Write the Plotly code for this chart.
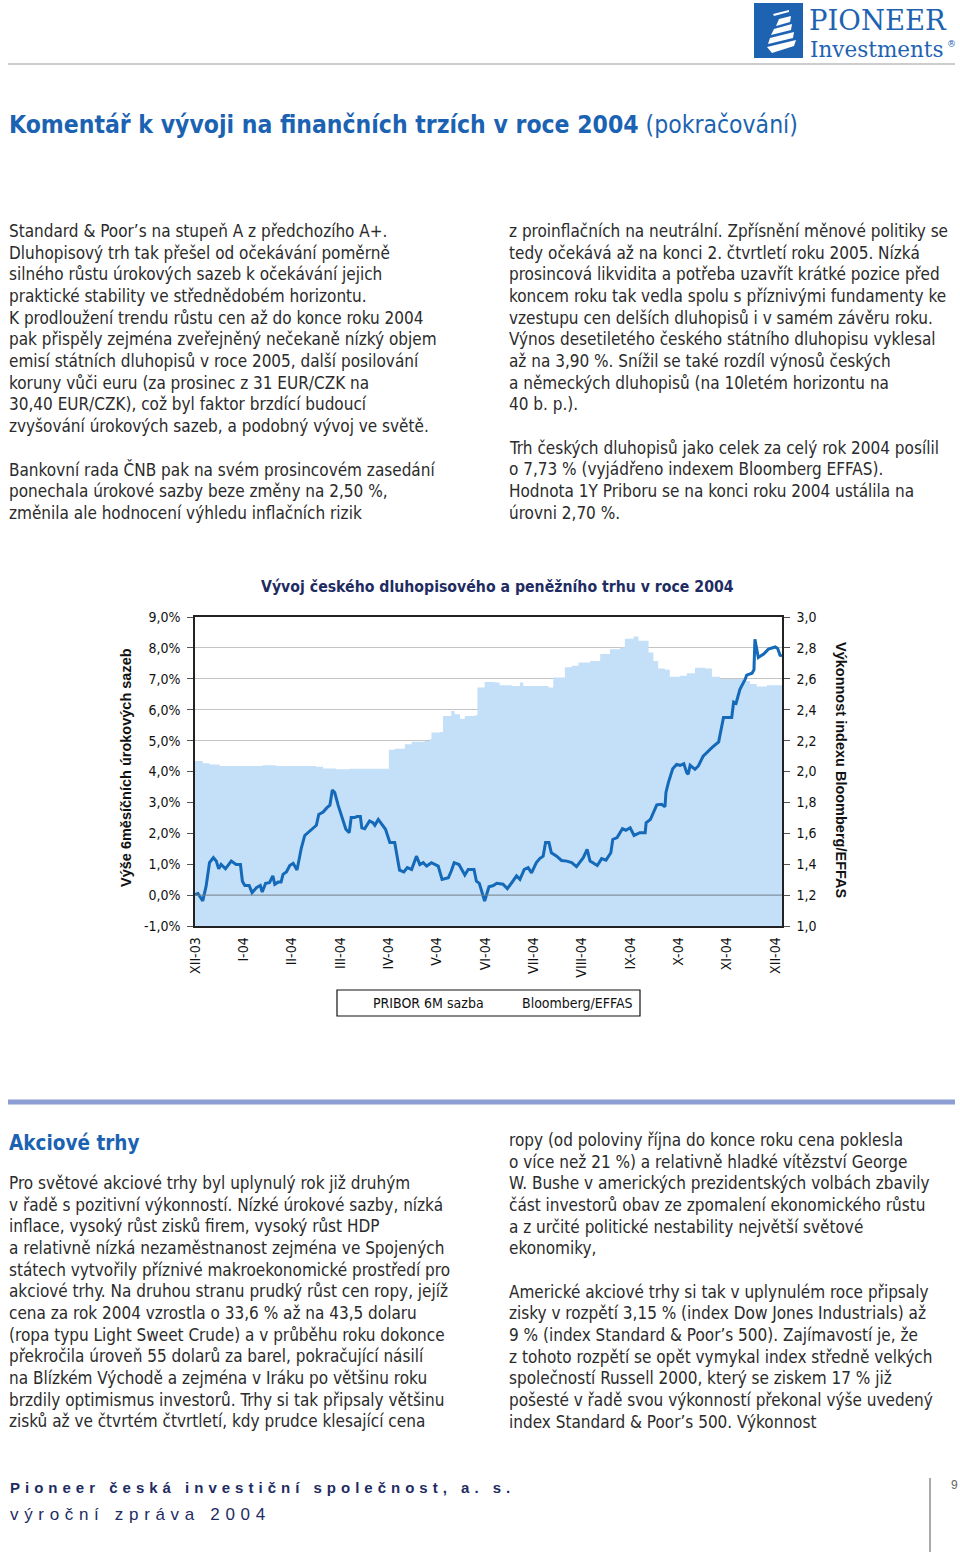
import plotly.graph_objects as go

# ---------------- DATA ----------------
month_labels = ["XII-03", "I-04", "II-04", "III-04", "IV-04", "V-04", "VI-04",
                "VII-04", "VIII-04", "IX-04", "X-04", "XI-04", "XII-04"]
month_pos = list(range(13))

left_ticks = [-1, 0, 1, 2, 3, 4, 5, 6, 7, 8, 9]
left_tick_labels = ["-1,0%", "0,0%", "1,0%", "2,0%", "3,0%", "4,0%", "5,0%",
                    "6,0%", "7,0%", "8,0%", "9,0%"]

# Bloomberg/EFFAS performance (left axis, %), x = months since end of Dec 2003
effas_t = [0.00, 0.06, 0.16, 0.23, 0.30, 0.38, 0.44, 0.49, 0.54, 0.63, 0.75, 0.85, 0.94,
           0.98, 1.03, 1.12, 1.18, 1.27, 1.35, 1.39, 1.46, 1.54, 1.61, 1.65, 1.72, 1.78,
           1.82, 1.89, 1.96, 2.03, 2.11, 2.20, 2.27, 2.34, 2.44, 2.51, 2.56, 2.65, 2.73,
           2.79, 2.84, 2.89, 2.96, 3.03, 3.12, 3.19, 3.23, 3.30, 3.35, 3.42, 3.45, 3.51,
           3.61, 3.68, 3.72, 3.79, 3.88, 3.94, 4.03, 4.13, 4.23, 4.32, 4.39, 4.48, 4.58,
           4.65, 4.72, 4.79, 4.89, 5.03, 5.11, 5.24, 5.30, 5.36, 5.46, 5.58, 5.65, 5.77,
           5.82, 5.88, 5.99, 6.08, 6.17, 6.24, 6.37, 6.46, 6.55, 6.65, 6.72, 6.81, 6.89,
           6.96, 7.06, 7.13, 7.20, 7.25, 7.32, 7.37, 7.48, 7.58, 7.69, 7.79, 7.89, 7.96,
           8.03, 8.11, 8.17, 8.32, 8.41, 8.50, 8.60, 8.64, 8.73, 8.84, 8.91, 9.00, 9.08,
           9.20, 9.31, 9.33, 9.42, 9.55, 9.65, 9.72, 9.74, 9.79, 9.88, 9.96, 10.03, 10.11,
           10.17, 10.20, 10.24, 10.34, 10.41, 10.51, 10.62, 10.69, 10.83, 10.89, 10.93,
           11.10, 11.14, 11.19, 11.27, 11.38, 11.41, 11.52, 11.56, 11.58, 11.65, 11.76,
           11.86, 12.00, 12.05, 12.10, 12.14]
effas_val = [0.02, 0.05, -0.19, 0.29, 1.05, 1.21, 1.10, 0.85, 0.99, 0.85, 1.10, 0.99, 0.99,
             0.45, 0.31, 0.31, 0.08, 0.24, 0.31, 0.10, 0.38, 0.40, 0.62, 0.35, 0.42, 0.42,
             0.67, 0.75, 0.96, 1.03, 0.81, 1.53, 1.93, 2.02, 2.18, 2.26, 2.61, 2.69, 2.83,
             2.91, 3.40, 3.32, 2.91, 2.56, 2.13, 2.02, 2.51, 2.51, 2.54, 2.54, 2.18, 2.15,
             2.40, 2.34, 2.26, 2.45, 2.24, 2.13, 1.70, 1.70, 0.81, 0.75, 0.89, 0.83, 1.26,
             0.99, 1.05, 0.94, 1.05, 0.94, 0.51, 0.56, 0.78, 1.05, 0.99, 0.65, 0.83, 0.83,
             0.45, 0.38, -0.19, 0.27, 0.31, 0.38, 0.35, 0.21, 0.40, 0.62, 0.51, 0.83, 0.89,
             0.72, 1.05, 1.18, 1.26, 1.70, 1.70, 1.37, 1.26, 1.12, 1.10, 1.05, 0.92, 1.08,
             1.21, 1.48, 1.10, 0.96, 1.18, 1.13, 1.37, 1.80, 1.86, 2.15, 2.10, 2.18, 1.93,
             2.02, 2.02, 2.34, 2.45, 2.92, 2.94, 2.86, 3.32, 3.64, 4.09, 4.23, 4.20, 4.25,
             3.96, 3.91, 4.20, 4.07, 4.18, 4.50, 4.67, 4.77, 4.96, 5.48, 5.75,
             5.75, 6.25, 6.21, 6.66, 6.99, 7.12, 7.18, 7.29, 8.28, 7.69, 7.80,
             7.96, 8.03, 7.98, 7.76, 7.74]

# PRIBOR 6M (right axis, %)
pribor_t = [0.00, 0.16, 0.30, 0.51, 0.92, 1.40, 1.68, 1.96, 2.51, 2.65, 2.92, 3.20, 3.48,
            3.94, 3.99, 4.01, 4.13, 4.34, 4.48, 4.75, 4.86, 4.89, 5.06, 5.13, 5.30, 5.37,
            5.48, 5.58, 5.79, 5.84, 5.99, 6.20, 6.30, 6.55, 6.72, 6.79, 7.03, 7.31, 7.41,
            7.65, 7.79, 7.93, 8.17, 8.38, 8.58, 8.79, 8.89, 9.07, 9.17, 9.31, 9.38, 9.48,
            9.58, 9.72, 9.82, 10.03, 10.17, 10.34, 10.55, 10.69, 10.86, 11.20, 11.34, 11.48,
            11.62, 11.83, 12.14]
pribor_val = [2.068, 2.054, 2.046, 2.036, 2.036, 2.040, 2.036, 2.036, 2.030, 2.020, 2.014,
              2.018, 2.018, 2.018, 2.018, 2.140, 2.148, 2.176, 2.192, 2.198, 2.208, 2.252,
              2.256, 2.360, 2.392, 2.370, 2.342, 2.360, 2.364, 2.544, 2.580, 2.576, 2.558,
              2.554, 2.576, 2.554, 2.554, 2.544, 2.608, 2.674, 2.684, 2.706, 2.716, 2.760,
              2.792, 2.802, 2.860, 2.874, 2.846, 2.846, 2.770, 2.716, 2.666, 2.658, 2.614,
              2.620, 2.636, 2.672, 2.666, 2.614, 2.598, 2.598, 2.586, 2.566, 2.550, 2.558,
              2.558]

series_names = ["PRIBOR 6M sazba", "Bloomberg/EFFAS"]

# ---------------- PAGE TEXT ----------------
heading_bold = "Komentář k vývoji na finančních trzích v roce 2004"
heading_regular = "(pokračování)"
chart_title = "Vývoj českého dluhopisového a peněžního trhu v roce 2004"
left_axis_title = "Výše 6měsíčních úrokových sazeb"
right_axis_title = "Výkonnost indexu Bloomberg/EFFAS"

top_left = [
    "Standard & Poor’s na stupeň A z předchozího A+.",
    "Dluhopisový trh tak přešel od očekávání poměrně",
    "silného růstu úrokových sazeb k očekávání jejich",
    "praktické stability ve střednědobém horizontu.",
    "K prodloužení trendu růstu cen až do konce roku 2004",
    "pak přispěly zejména zveřejněný nečekaně nízký objem",
    "emisí státních dluhopisů v roce 2005, další posilování",
    "koruny vůči euru (za prosinec z 31 EUR/CZK na",
    "30,40 EUR/CZK), což byl faktor brzdící budoucí",
    "zvyšování úrokových sazeb, a podobný vývoj ve světě.",
    "",
    "Bankovní rada ČNB pak na svém prosincovém zasedání",
    "ponechala úrokové sazby beze změny na 2,50 %,",
    "změnila ale hodnocení výhledu inflačních rizik",
]
top_right = [
    "z proinflačních na neutrální. Zpřísnění měnové politiky se",
    "tedy očekává až na konci 2. čtvrtletí roku 2005. Nízká",
    "prosincová likvidita a potřeba uzavřít krátké pozice před",
    "koncem roku tak vedla spolu s příznivými fundamenty ke",
    "vzestupu cen delších dluhopisů i v samém závěru roku.",
    "Výnos desetiletého českého státního dluhopisu vyklesal",
    "až na 3,90 %. Snížil se také rozdíl výnosů českých",
    "a německých dluhopisů (na 10letém horizontu na",
    "40 b. p.).",
    "",
    "Trh českých dluhopisů jako celek za celý rok 2004 posílil",
    "o 7,73 % (vyjádřeno indexem Bloomberg EFFAS).",
    "Hodnota 1Y Priboru se na konci roku 2004 ustálila na",
    "úrovni 2,70 %.",
]
section2_heading = "Akciové trhy"
bottom_left = [
    "Pro světové akciové trhy byl uplynulý rok již druhým",
    "v řadě s pozitivní výkonností. Nízké úrokové sazby, nízká",
    "inflace, vysoký růst zisků firem, vysoký růst HDP",
    "a relativně nízká nezaměstnanost zejména ve Spojených",
    "státech vytvořily příznivé makroekonomické prostředí pro",
    "akciové trhy. Na druhou stranu prudký růst cen ropy, jejíž",
    "cena za rok 2004 vzrostla o 33,6 % až na 43,5 dolaru",
    "(ropa typu Light Sweet Crude) a v průběhu roku dokonce",
    "překročila úroveň 55 dolarů za barel, pokračující násilí",
    "na Blízkém Východě a zejména v Iráku po většinu roku",
    "brzdily optimismus investorů. Trhy si tak připsaly většinu",
    "zisků až ve čtvrtém čtvrtletí, kdy prudce klesající cena",
]
bottom_right = [
    "ropy (od poloviny října do konce roku cena poklesla",
    "o více než 21 %) a relativně hladké vítězství George",
    "W. Bushe v amerických prezidentských volbách zbavily",
    "část investorů obav ze zpomalení ekonomického růstu",
    "a z určité politické nestability největší světové",
    "ekonomiky,",
    "",
    "Americké akciové trhy si tak v uplynulém roce připsaly",
    "zisky v rozpětí 3,15 % (index Dow Jones Industrials) až",
    "9 % (index Standard & Poor’s 500). Zajímavostí je, že",
    "z tohoto rozpětí se opět vymykal index středně velkých",
    "společností Russell 2000, který se ziskem 17 % již",
    "pošesté v řadě svou výkonností překonal výše uvedený",
    "index Standard & Poor’s 500. Výkonnost",
]
footer_company = "Pioneer česká investiční společnost, a. s."
footer_report = "výroční zpráva 2004"
page_number = "9"

# ---------------- LAYOUT HELPERS ----------------
W, H = 960, 1557
PL, PR, PT, PB = 195, 782, 617, 926   # plot area in page pixels


def px(x):
    return (x - PL) / (PR - PL)


def py(y):
    return (PB - y) / (PB - PT)


NARROW = "Liberation Sans Narrow, Arial Narrow, DejaVu Sans Condensed, Liberation Sans, Arial"
BODY = NARROW
SERIF = "DejaVu Serif, Liberation Serif, serif"
BLUE = "#1B63B2"
TEXT = "#2B2B2B"
NAVY = "#1E2C62"

annotations = []
shapes = []


def text(x, y, s, size, color=TEXT, family=BODY, xanchor="left", angle=0, height=None):
    a = dict(
        text=s, x=px(x), y=py(y), xref="paper", yref="paper",
        xanchor=xanchor, yanchor="middle", showarrow=False, textangle=angle,
        font=dict(size=size, color=color, family=family))
    if height is not None:
        a["height"] = height
    annotations.append(a)


def spaced(s, gap):
    return gap.join("\u00a0" if c == " " else c for c in s)


# ---------------- FIGURE ----------------
fig = go.Figure()

fig.add_trace(go.Scatter(
    x=pribor_t, y=pribor_val, name=series_names[0], yaxis="y2",
    mode="lines", line=dict(width=0, color="#C4DFF8", shape="hv"),
    fill="tozeroy", fillcolor="#C4DFF8", showlegend=False, hoverinfo="skip"))

fig.add_trace(go.Scatter(
    x=effas_t, y=effas_val, name=series_names[1], yaxis="y",
    mode="lines", line=dict(width=3, color="#1469B8"),
    showlegend=False))

# zero line of the left axis, visible over the area
shapes.append(dict(type="line", xref="paper", x0=0, x1=1, yref="y", y0=0, y1=0,
                   line=dict(color="#6F7E8C", width=1), layer="above"))

# chart title and axis titles
text(497, 586, "<b>" + chart_title + "</b>", 15.7, color=NAVY, family=NARROW, xanchor="center")
text(126, 768, "<b>" + left_axis_title + "</b>", 14.5, color="#111111",
     family="Liberation Sans, Arial", xanchor="center", angle=-90)
text(841, 770, "<b>" + right_axis_title + "</b>", 14.5, color="#111111",
     family="Liberation Sans, Arial", xanchor="center", angle=90)

# legend box
shapes.append(dict(type="rect", xref="paper", yref="paper",
                   x0=px(337), x1=px(640), y0=py(990), y1=py(1016),
                   line=dict(color="#111111", width=1.2), fillcolor="white"))
text(428, 1003, series_names[0], 14, color="#111111", family=NARROW, xanchor="center")
text(577, 1003, series_names[1], 14, color="#111111", family=NARROW, xanchor="center")

# ---------------- PAGE DECORATION ----------------
# logo
shapes.append(dict(type="rect", xref="paper", yref="paper",
                   x0=px(754), x1=px(803), y0=py(58), y1=py(3),
                   line=dict(width=0), fillcolor="#1E63B2"))
sail_polys = [
    [(773, 14), (789, 10), (789, 12), (774, 16)],
    [(779, 19), (791, 16), (790, 22), (776, 26)],
    [(774, 29), (792, 24), (791, 30), (771, 35)],
    [(770, 38), (794, 32), (793, 38), (768, 44)],
    [(767, 47), (796, 40), (794, 46), (772, 53)],
]
for poly in sail_polys:
    d = "M " + " L ".join(f"{px(a):.5f},{py(b):.5f}" for a, b in poly) + " Z"
    shapes.append(dict(type="path", xref="paper", yref="paper", path=d,
                       fillcolor="white", line=dict(width=0)))
text(807, 20, "PIONEER", 27.5, color="#1E63B2", family=SERIF)
text(808, 49.5, "Investments", 21.5, color="#1E63B2", family=SERIF)
text(945, 44, "®", 9, color="#1E63B2", family=SERIF)

# top rule
shapes.append(dict(type="line", xref="paper", yref="paper",
                   x0=px(8), x1=px(955), y0=py(64), y1=py(64),
                   line=dict(color="#9A9A9A", width=1)))

# heading
text(7, 124, "<b>" + heading_bold + "</b> " + heading_regular, 24.5, color=BLUE, family=NARROW)

LH = 21.68
for col_x, lines, y0 in [(7, top_left, 231), (507, top_right, 231),
                         (7, bottom_left, 1183), (507, bottom_right, 1140)]:
    for i, s in enumerate(lines):
        if s:
            text(col_x, y0 + i * LH, s, 17, color=TEXT, family=BODY)

# blue separator bar
shapes.append(dict(type="line", xref="paper", yref="paper",
                   x0=px(8), x1=px(955), y0=py(1102), y1=py(1102),
                   line=dict(color="#8C9ED3", width=5)))
text(7, 1143, "<b>" + section2_heading + "</b>", 20.5, color=BLUE, family=NARROW)

# footer
text(8, 1487, "<b>" + spaced(footer_company, "\u2004") + "</b>", 15, color=NAVY,
     family="Liberation Sans, Arial")
text(8, 1514, spaced(footer_report, "\u2004"), 17, color=NAVY, family="Liberation Sans, Arial")
shapes.append(dict(type="line", xref="paper", yref="paper",
                   x0=px(930), x1=px(930), y0=py(1478), y1=py(1552),
                   line=dict(color="#555555", width=1)))
text(954, 1485, page_number, 12, color="#666666", family="Liberation Sans, Arial", xanchor="center")

fig.update_layout(
    width=W, height=H, autosize=False,
    margin=dict(l=PL, r=W - PR, t=PT, b=H - PB, pad=0),
    paper_bgcolor="white", plot_bgcolor="white",
    separators=", ",
    showlegend=False,
    font=dict(family=NARROW, color="#111111", size=14),
    xaxis=dict(range=[0, 12.14], tickmode="array", tickvals=month_pos, ticktext=month_labels,
               tickangle=-90, ticks="", showgrid=False, zeroline=False,
               showline=True, linecolor="#222222", linewidth=1.5, mirror=True,
               tickfont=dict(size=14, family=NARROW, color="#111111"), ticklabelstandoff=4),
    yaxis2=dict(range=[1.0, 3.0], dtick=0.2, tick0=1.0, tickformat=".1f", side="right",
                showgrid=False, zeroline=False, showline=True, linecolor="#222222", linewidth=1.5,
                ticks="outside", ticklen=6, tickcolor="#555555",
                tickfont=dict(size=14, family=NARROW, color="#111111"), ticklabelstandoff=4),
    yaxis=dict(range=[-1, 9], tickmode="array", tickvals=left_ticks, ticktext=left_tick_labels,
               overlaying="y2", side="left",
               showgrid=True, gridcolor="#C4C4C4", gridwidth=1, zeroline=False,
               showline=True, linecolor="#222222", linewidth=1.5,
               ticks="outside", ticklen=6, tickcolor="#555555",
               tickfont=dict(size=14, family=NARROW, color="#111111"), ticklabelstandoff=4),
    annotations=annotations,
    shapes=shapes,
)

fig.write_html("out.html", config={"displayModeBar": False},
               post_script="document.body.style.margin='0';")
